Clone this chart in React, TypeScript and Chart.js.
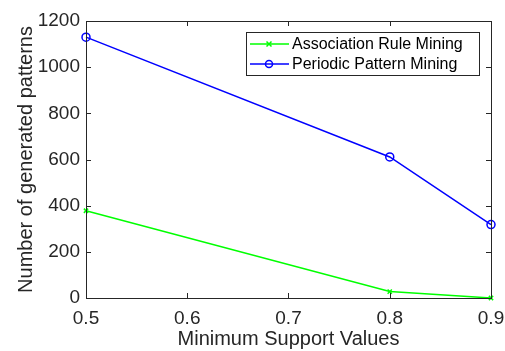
import React, { useEffect, useRef } from "react";
import { Chart, registerables } from "chart.js";

Chart.register(...registerables);

const supportValues = [0.5, 0.8, 0.9];
const associationRule = [378, 28, 0];
const periodicPattern = [1130, 611, 318];
const seriesLabels = ["Association Rule Mining", "Periodic Pattern Mining"];
const seriesColors = ["#00ff00", "#0000ff"];
const xTitle = "Minimum Support Values";
const yTitle = "Number of generated patterns";

const FONT = "'Liberation Sans', Arial, sans-serif";
const AXIS = "#262626";

const matlabBox = {
  id: "matlabBox",
  afterDatasetsDraw(chart: any) {
    const { ctx, chartArea: a, scales } = chart;
    ctx.save();
    ctx.strokeStyle = AXIS;
    ctx.lineWidth = 1;
    ctx.strokeRect(Math.round(a.left) + 0.5, Math.round(a.top) + 0.5, Math.round(a.right - a.left), Math.round(a.bottom - a.top));
    const tl = 5;
    ctx.beginPath();
    scales.x.ticks.forEach((t: any) => {
      const px = Math.round(scales.x.getPixelForValue(t.value)) + 0.5;
      ctx.moveTo(px, a.bottom);
      ctx.lineTo(px, a.bottom - tl);
      ctx.moveTo(px, a.top);
      ctx.lineTo(px, a.top + tl);
    });
    scales.y.ticks.forEach((t: any) => {
      const py = Math.round(scales.y.getPixelForValue(t.value)) + 0.5;
      ctx.moveTo(a.left, py);
      ctx.lineTo(a.left + tl, py);
      ctx.moveTo(a.right, py);
      ctx.lineTo(a.right - tl, py);
    });
    ctx.stroke();

    // legend
    const lx = 246, ly = 32, lw = 233, lh = 43;
    ctx.fillStyle = "#ffffff";
    ctx.fillRect(lx, ly, lw, lh);
    ctx.strokeStyle = AXIS;
    ctx.strokeRect(lx + 0.5, ly + 0.5, lw, lh);
    ctx.font = `16px ${FONT}`;
    ctx.textBaseline = "middle";
    chart.data.datasets.forEach((ds: any, i: number) => {
      const cy = ly + 12 + i * 20;
      ctx.strokeStyle = ds.borderColor;
      ctx.lineWidth = 1.5;
      ctx.beginPath();
      ctx.moveTo(lx + 4, cy);
      ctx.lineTo(lx + 43, cy);
      ctx.stroke();
      const mx = lx + 23;
      if (ds.pointStyle === "circle") {
        ctx.beginPath();
        ctx.arc(mx, cy, 3.5, 0, Math.PI * 2);
        ctx.stroke();
      } else {
        ctx.beginPath();
        ctx.moveTo(mx - 2.5, cy - 2.5);
        ctx.lineTo(mx + 2.5, cy + 2.5);
        ctx.moveTo(mx + 2.5, cy - 2.5);
        ctx.lineTo(mx - 2.5, cy + 2.5);
        ctx.stroke();
      }
      ctx.fillStyle = "#000000";
      ctx.fillText(ds.label, lx + 46, cy + 1);
    });
    ctx.restore();
  },
};

export default function App() {
  const ref = useRef<HTMLCanvasElement>(null);
  useEffect(() => {
    if (!ref.current) return;
    const chart = new Chart(ref.current, {
      type: "line",
      data: {
        datasets: [
          {
            label: seriesLabels[0],
            data: supportValues.map((x, i) => ({ x, y: associationRule[i] })),
            borderColor: seriesColors[0],
            backgroundColor: seriesColors[0],
            borderWidth: 1.5,
            pointStyle: "crossRot",
            pointRadius: 3,
            pointBorderWidth: 1.5,
            clip: false as any,
          },
          {
            label: seriesLabels[1],
            data: supportValues.map((x, i) => ({ x, y: periodicPattern[i] })),
            borderColor: seriesColors[1],
            backgroundColor: "rgba(0,0,0,0)",
            borderWidth: 1.5,
            pointStyle: "circle",
            pointRadius: 4,
            pointBorderWidth: 1.5,
            clip: false as any,
          },
        ],
      },
      options: {
        animation: false,
        responsive: false,
        layout: { padding: { top: 21, right: 14, left: 0, bottom: 0 } },
        plugins: { legend: { display: false }, tooltip: { enabled: false } },
        scales: {
          x: {
            type: "linear",
            min: 0.5,
            max: 0.9,
            ticks: {
              stepSize: 0.1,
              color: AXIS,
              font: { family: FONT, size: 19 },
              padding: 9,
              callback: (v: any) => Number(v).toFixed(1),
            },
            grid: { display: false, drawTicks: false },
            border: { display: false },
            title: {
              display: true,
              text: xTitle,
              color: AXIS,
              font: { family: FONT, size: 20 },
              padding: { top: 0, bottom: 0 },
            },
            afterFit: (s: any) => {
              s.height = 53;
              s.paddingLeft = 0;
              s.paddingRight = 0;
            },
          },
          y: {
            min: 0,
            max: 1200,
            ticks: {
              stepSize: 200,
              color: AXIS,
              font: { family: FONT, size: 19 },
              padding: 6,
              callback: (v: any) => String(v),
            },
            grid: { display: false, drawTicks: false },
            border: { display: false },
            title: {
              display: true,
              text: yTitle,
              color: AXIS,
              font: { family: FONT, size: 20 },
              padding: { top: 14, bottom: 0 },
            },
            afterFit: (s: any) => {
              s.width = 86;
              s.paddingTop = 0;
              s.paddingBottom = 0;
            },
          },
        },
      },
      plugins: [matlabBox],
    });
    return () => chart.destroy();
  }, []);
  return (
    <div style={{ position: "fixed", left: 0, top: 0, width: 505, height: 351, background: "#fff" }}>
      <canvas ref={ref} width={505} height={351} />
    </div>
  );
}
